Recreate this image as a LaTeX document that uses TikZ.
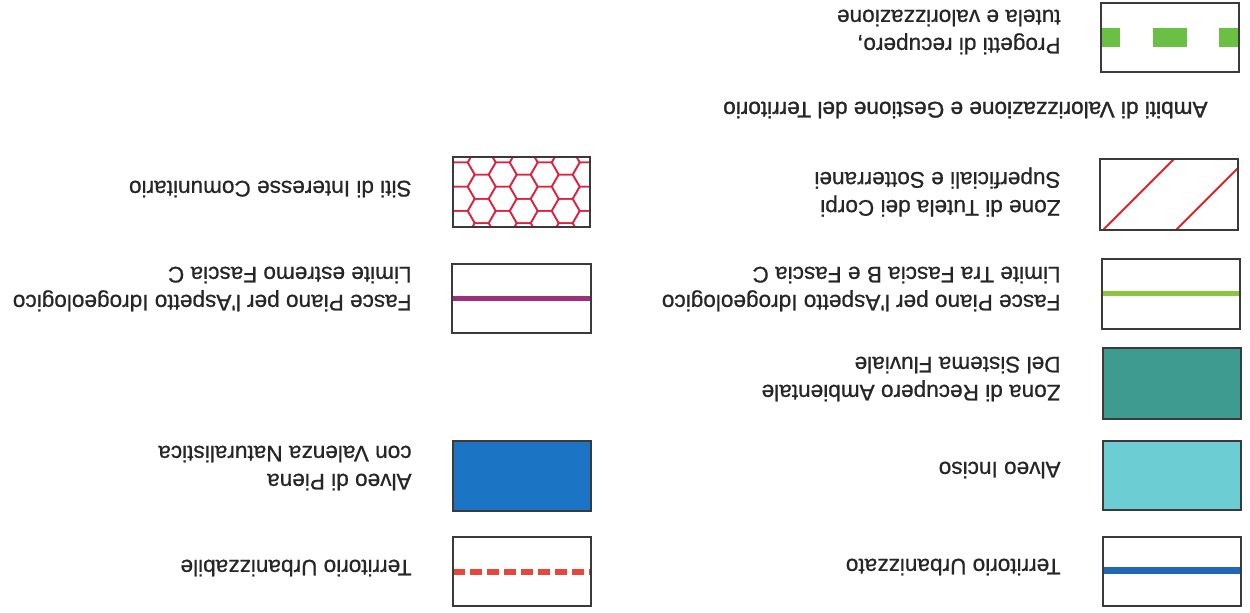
\documentclass[tikz,border=0pt]{standalone}
\usepackage{fontspec}
\setmainfont{Liberation Sans}
\newfontfamily\legfont{Liberation Sans}[FakeBold=0.7]
\newfontfamily\headfont{Liberation Sans}[FakeBold=1.3]

\definecolor{boxgray}{HTML}{3A3A3A}
\definecolor{urbblue}{HTML}{2266B8}
\definecolor{incisocyan}{HTML}{6CCDD3}
\definecolor{recteal}{HTML}{3D9B90}
\definecolor{pienablue}{HTML}{1B75C4}
\definecolor{fasciagreen}{HTML}{8CC63F}
\definecolor{fasciapurple}{HTML}{9B2F80}
\definecolor{tutelared}{HTML}{E52421}
\definecolor{sicred}{HTML}{E2203C}
\definecolor{urbred}{HTML}{E8453C}
\definecolor{progreen}{HTML}{6ABF45}

\begin{document}
\begin{tikzpicture}[x=0.5pt,y=-0.5pt,
  legbox/.style={draw=boxgray, line width=0.8pt},
  legtext/.style={rotate=180, anchor=west, align=left, inner sep=0pt,
    font=\legfont\fontsize{11.3}{14}\selectfont, text=black!85}]
\useasboundingbox (0,0) rectangle (1250,613);

% --- right column
\draw[urbblue, line width=3.5pt] (1103,571) -- (1241,571);
\draw[legbox] (1103,537) rectangle (1241,606);
\node[legtext] (urbz) at (1061,567) {Territorio Urbanizzato};

\draw[legbox, fill=incisocyan] (1103,441) rectangle (1241,510);
\node[legtext] (inciso) at (1061,470) {Alveo Inciso};

\draw[legbox, fill=recteal] (1103,348) rectangle (1241,419);
\node[legtext] (recupero) at (1061,379) {Zona di Recupero Ambientale\\Del Sistema Fluviale};

\draw[fasciagreen, line width=2.5pt] (1102,294) -- (1240,294);
\draw[legbox] (1102,259) rectangle (1240,329);
\node[legtext] (limbc) at (1061,289) {Fasce Piano per l'Aspetto Idrogeologico\\Limite Tra Fascia B e Fascia C};

\begin{scope}
\clip (1100,159) rectangle (1238,230);
\draw[tutelared, line width=1pt] (1103,230) -- ++(75,-75);
\draw[tutelared, line width=1pt] (1176,230) -- ++(75,-75);
\end{scope}
\draw[legbox] (1100,159) rectangle (1238,230);
\node[legtext] (tutela) at (1061,192) {Zone di Tutela dei Corpi\\Superficiali e Sotterranei};

\node[legtext, font=\headfont\fontsize{11.3}{14}\selectfont] (ambiti) at (1208,110) {Ambiti di Valorizzazione e Gestione del Territorio};

% progetti: green dashes
\fill[progreen] (1101,28) rectangle (1120,47);
\fill[progreen] (1153,28) rectangle (1187,47);
\fill[progreen] (1219,28) rectangle (1239,47);
\draw[legbox] (1101,3) rectangle (1239,72);
\node[legtext] (progetti) at (1061,32) {Progetti di recupero,\\tutela e valorizzazione};

% --- left column
\draw[urbred, line width=3pt, dash pattern=on 6pt off 2.5pt] (453,572) -- (591,572);
\draw[legbox] (453,537) rectangle (591,606);
\node[legtext] (urbzbile) at (412,568) {Territorio Urbanizzabile};

\draw[legbox, fill=pienablue] (453,441) rectangle (591,511);
\node[legtext] (piena) at (412,468) {Alveo di Piena\\con Valenza Naturalistica};

\draw[fasciapurple, line width=2.5pt] (452,299) -- (591,299);
\draw[legbox] (452,264) rectangle (591,333);
\node[legtext] (limc) at (412,289) {Fasce Piano per l'Aspetto Idrogeologico\\Limite estremo Fascia C};

% hexagons
\begin{scope}
\clip (453,157) rectangle (590,227);
\foreach \k in {0,...,8}
  \foreach \m in {-2,...,2} {
    \pgfmathsetmacro\cx{439.7+21*\k}
    \pgfmathsetmacro\cy{186.7+24.25*\m+12.12*mod(\k,2)}
    \draw[sicred, line width=0.8pt] (\cx+14,\cy) -- (\cx+7,\cy+12.12) -- (\cx-7,\cy+12.12)
      -- (\cx-14,\cy) -- (\cx-7,\cy-12.12) -- (\cx+7,\cy-12.12) -- cycle;
  }
\end{scope}
\draw[legbox] (453,157) rectangle (590,227);
\node[legtext] (sic) at (412,189) {Siti di Interesse Comunitario};

\end{tikzpicture}
\end{document}
